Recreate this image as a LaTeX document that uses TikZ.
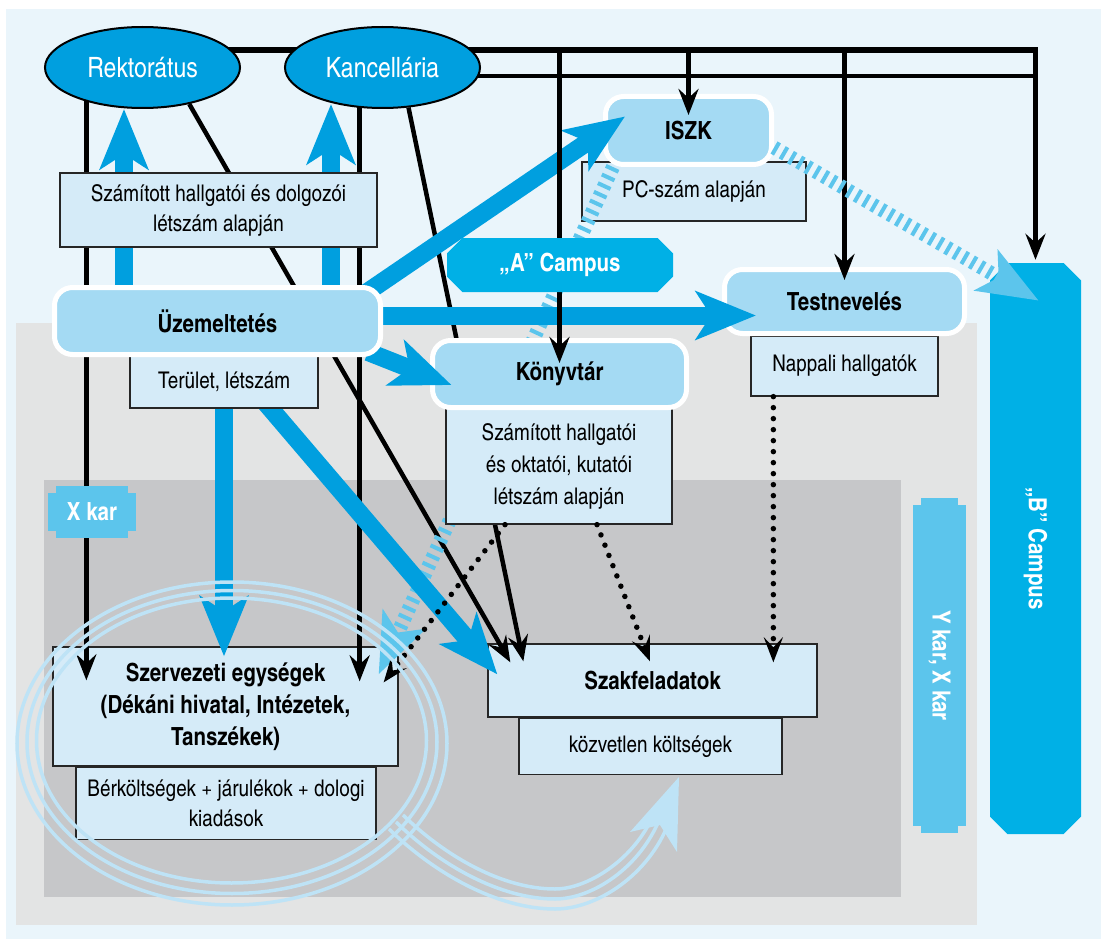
\documentclass[tikz,border=0pt]{standalone}
\usepackage{fontspec}
\setmainfont{texgyreheroscn}[Extension=.otf, UprightFont=*-regular, BoldFont=*-bold, ItalicFont=*-italic, BoldItalicFont=*-bolditalic]
\usepackage{tikz}
\usetikzlibrary{arrows.meta,shapes,positioning,calc}
\usepackage{xcolor}
\definecolor{pagebg}{RGB}{234,245,251}
\definecolor{panelgray}{RGB}{227,228,228}
\definecolor{facgray}{RGB}{198,199,201}
\definecolor{headblue}{RGB}{0,159,223}
\definecolor{campusblue}{RGB}{0,176,230}
\definecolor{karblue}{RGB}{92,197,236}
\definecolor{svcblue}{RGB}{164,218,243}
\definecolor{notefill}{RGB}{213,235,248}
\definecolor{ringblue}{RGB}{190,227,246}
\pgfdeclarelayer{bgl}
\pgfdeclarelayer{lowl}
\pgfdeclarelayer{wirel}
\pgfdeclarelayer{midl}
\pgfdeclarelayer{fatl}
\pgfdeclarelayer{topl}
\pgfdeclarelayer{tagl}
\pgfsetlayers{bgl,lowl,wirel,midl,fatl,main,topl,tagl}
\tikzstyle{lead} = [ellipse, draw=black, line width=2pt, fill=headblue, text=white, minimum width=195pt, minimum height=81pt, font=\fontsize{28}{32}\selectfont]
\tikzstyle{service} = [rectangle, rounded corners=18pt, draw=white, line width=5pt, fill=svcblue, font=\bfseries\fontsize{25}{32}\selectfont]
\tikzstyle{note} = [rectangle, draw=black!85, line width=1.3pt, fill=notefill, align=center, inner sep=0pt, font=\fontsize{23}{30}\selectfont]
\tikzstyle{unitbox} = [note, font=\bfseries\fontsize{25}{32}\selectfont]
\tikzstyle{kartag} = [rectangle, fill=karblue, text=white, inner sep=0pt, font=\bfseries\fontsize{25}{30}\selectfont]
\tikzstyle{campus} = [chamfered rectangle, chamfered rectangle xsep=14pt, fill=campusblue, text=white, inner sep=0pt, font=\bfseries\fontsize{25}{30}\selectfont]
\tikzstyle{link} = [line width=4.5pt, black]
\tikzstyle{feed} = [link, -{Stealth[length=26pt,width=20pt,inset=9pt]}]
\tikzstyle{fat} = [line width=18pt, headblue, -{Stealth[length=60pt,width=48pt,inset=15pt]}]
\tikzstyle{hatch} = [line width=14pt, karblue, dash pattern=on 4pt off 5.5pt, -{Stealth[length=60pt,width=46pt,inset=14pt]}]
\tikzstyle{dotlink} = [line width=5.5pt, black, dash pattern=on 0pt off 11pt, line cap=round, -{Stealth[length=25pt,width=19pt,inset=10pt]}]
\tikzstyle{ring} = [line width=3.5pt, ringblue]

\begin{document}
\begin{tikzpicture}[x=1pt,y=-1pt]
\useasboundingbox (0,0) rectangle (1101,939);
% Campus and faculty areas
\begin{pgfonlayer}{bgl}
\fill[pagebg] (6,9) rectangle (1101,939);
\fill[panelgray] (16,323) rectangle (977,925);
\fill[facgray] (44,480) rectangle (901,897);
\node (ykar) [kartag, minimum width=53pt, minimum height=321pt] at (939.5,665.5) {\rotatebox{-90}{Y kar, X kar}};
\fill[karblue] ($(ykar.north west)+(8,-7)$) rectangle ($(ykar.north east)+(-8,0)$);
\fill[karblue] ($(ykar.south west)+(8,0)$) rectangle ($(ykar.south east)+(-8,7)$);
\node (bcamp) [campus, minimum width=91pt, minimum height=571pt] at (1035.5,548.5) {\rotatebox{-90}{„B” Campus}};
\end{pgfonlayer}

% Receiving units
\begin{pgfonlayer}{lowl}
\node (szerv) [unitbox, minimum width=345pt, minimum height=119pt] at (225.5,706.5) {Szervezeti egységek\\(Dékáni hivatal, Intézetek,\\Tanszékek)};
\node (berk) [note, minimum width=300pt, minimum height=72pt, below=0pt of szerv, xshift=0.5pt] {Bérköltségek + járulékok + dologi\\kiadások};
\node (szak) [unitbox, minimum width=329pt, minimum height=73pt] at (652.5,680.5) {Szakfeladatok};
\node (kozv) [note, minimum width=263pt, minimum height=56pt, below=0pt of szak, xshift=-2pt] {közvetlen költségek};
\node (napp) [note, minimum width=187pt, minimum height=60pt] at (844.5,366) {Nappali hallgatók};
\node (test) [service, minimum width=240pt, minimum height=64pt] at (844.5,301.5) {Testnevelés};
\node (pcsz) [note, minimum width=224pt, minimum height=59pt] at (694,191.5) {PC-szám alapján};
\node (iszk) [service, minimum width=166pt, minimum height=68pt] at (688.5,130.5) {ISZK};
\end{pgfonlayer}

% Leadership and library
\begin{pgfonlayer}{midl}
\node (rekt) [lead] at (142.5,67.5) {Rektorátus};
\node (kanc) [lead] at (382.5,67.5) {Kancellária};
\node (konyb) [note, minimum width=226pt, minimum height=116pt, font=\fontsize{23}{32}\selectfont] at (559,466) {Számított hallgatói\\és oktatói, kutatói\\létszám alapján};
\node (kony) [service, minimum width=254pt, minimum height=67pt] at (559.5,374) {Könyvtár};
\end{pgfonlayer}

% Operations
\node (hkbasis) [note, minimum width=317pt, minimum height=74pt] at (218.5,210) {Számított hallgatói és dolgozói\\létszám alapján};
\node (terul) [note, minimum width=188pt, minimum height=52pt] at (224,382) {Terület, létszám};
\node (uzem) [service, minimum width=326pt, minimum height=67pt] at (217.5,321) {Üzemeltetés};

\begin{pgfonlayer}{tagl}
\node (acamp) [campus, minimum width=226pt, minimum height=54pt] at (560,265) {„A” Campus};
\node (xkar) [kartag, minimum width=88pt, minimum height=38pt] at (92,512) {X kar};
\fill[karblue] ($(xkar.north west)+(8,-7)$) rectangle ($(xkar.north east)+(-8,0)$);
\fill[karblue] ($(xkar.south west)+(8,0)$) rectangle ($(xkar.south east)+(-8,7)$);
\end{pgfonlayer}

% Black links
\begin{pgfonlayer}{wirel}
\coordinate (rektdrop) at ($(szerv.north west)+(34,34)$);
\coordinate (kancdrop) at ($(szerv.north east)+(-39,35)$);
\coordinate (rektbus) at ($(rekt.center)+(0,-17.5)$);
\coordinate (kancbus) at ($(kanc.center)+(0,8.5)$);
\coordinate (busend) at (bcamp.north |- rektbus);
\draw[feed] (rekt.center -| rektdrop) -- (rektdrop);
\draw[feed] (kanc.center -| kancdrop) -- (kancdrop);
\draw[feed] (rekt.-38) -- ($(szak.north west)+(23,19)$);
\draw[feed] (kanc.-57) -- ($(szak.north west)+(36,18)$);
\draw[link] (kancbus) -- (kancbus -| busend);
\draw[feed, line width=5.5pt] (rektbus) -- (busend) -- ($(bcamp.north)+(0,-3)$);
\draw[feed] (iszk.center |- rektbus) -- ($(iszk.center)+(0,-15.5)$);
\draw[feed] (test.center |- rektbus) -- ($(test.center)+(0,-21.5)$);
% IT allocation
\draw[hatch] ($(iszk.south west)+(10,0)$) -- ($(szerv.north east)+(-20,28)$);
\draw[hatch] ($(iszk.east)+(0,17)$) -- ($(bcamp.north west)+(40,29)$);
\end{pgfonlayer}

% Operations flows
\begin{pgfonlayer}{fatl}
\coordinate (rekthead) at ($(rekt.south)+(-18.5,0)$);
\coordinate (kanchead) at ($(kanc.south)+(-51.5,-5)$);
\coordinate (testhead) at ($(test.west)+(34,14)$);
\coordinate (szervhead) at (terul.center |- szerv.north);
\draw[fat] (rekthead |- uzem.center) -- (rekthead);
\draw[fat] (kanchead |- uzem.center) -- (kanchead);
\draw[fat] ($(uzem.north east)+(-20,10)$) -- ($(iszk.west)+(22,-14)$);
\draw[fat] (uzem.center |- testhead) -- (testhead);
\draw[fat] ($(uzem.south east)+(-15,-5)$) -- ($(kony.west)+(21.5,11)$);
\draw[fat] (terul.center) -- ($(szervhead)+(0,10)$);
\draw[fat] ($(terul.south)+(38,-10)$) -- ($(szak.north west)+(10,31)$);
\end{pgfonlayer}

\begin{pgfonlayer}{topl}
\draw[feed] (kony.center |- rektbus) -- ($(kony.center)+(0,-11)$);
% Dotted allocations
\coordinate (nappdot) at ($(napp.south west)+(23,0)$);
\draw[dotlink] ($(konyb.south)+(-54,0)$) -- ($(szerv.north east)+(-15,36)$);
\draw[dotlink] ($(konyb.south)+(38,0)$) -- ($(szak.north)+(-2.5,18)$);
\draw[dotlink] (nappdot) -- ($(nappdot |- szak.north)+(0,19)$);
% Cost loop
\coordinate (loopc) at (232,742);
\draw[ring] ($(loopc)+(0,1.5)$) ellipse [x radius=215, y radius=161.5];
\draw[ring] (loopc) ellipse [x radius=205, y radius=151.5];
\draw[ring] ($(loopc)+(-0.5,-1.5)$) ellipse [x radius=195, y radius=142.5];
\draw[ring] (403,815) .. controls (446,857) and (503,889) .. (555,889) .. controls (587,889) and (631,861) .. (651,820);
\draw[ring] (396,822) .. controls (440,865) and (500,899) .. (555,899) .. controls (592,899) and (640,868) .. (660,818);
\draw[ring] (389,829) .. controls (434,873) and (497,909) .. (555,909) .. controls (597,909) and (649,875) .. (669,822);
\coordinate (looptip) at (679,777);
\fill[ringblue] (looptip) -- (630,832) -- (660,825) -- (677,852) -- cycle;
\end{pgfonlayer}
\end{tikzpicture}
\end{document}
